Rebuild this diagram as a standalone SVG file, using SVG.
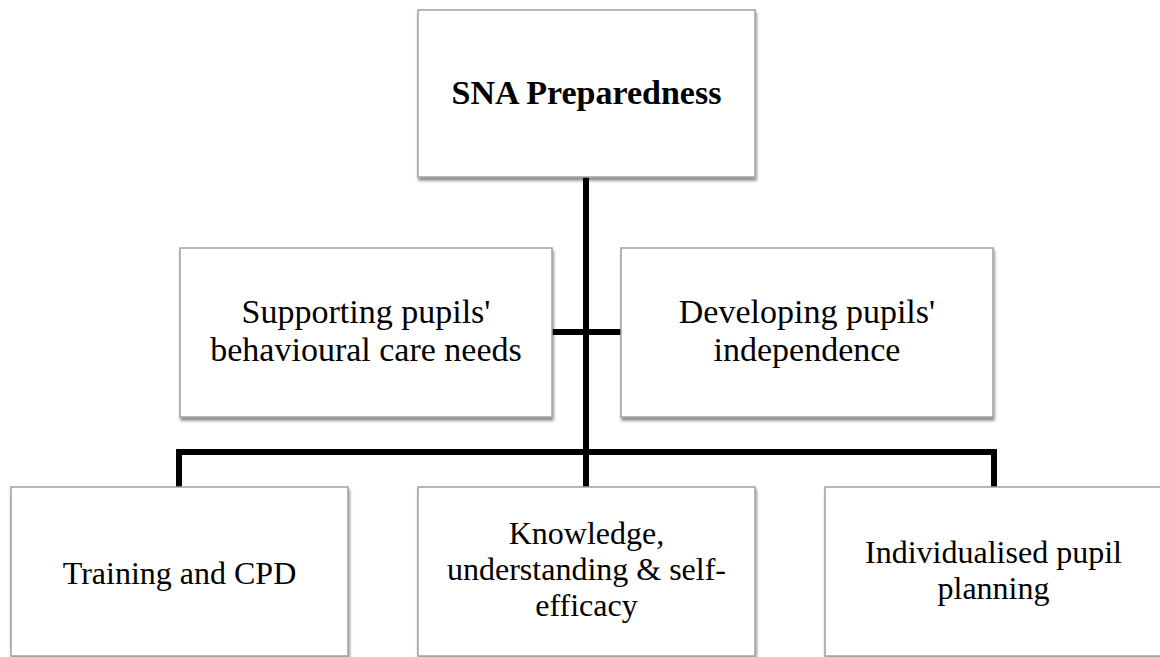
<svg xmlns="http://www.w3.org/2000/svg" width="1160" height="657" viewBox="0 0 1160 657">
<defs>
<filter id="sh" x="-5%" y="-5%" width="115%" height="120%">
<feDropShadow dx="1" dy="3" stdDeviation="1.8" flood-color="#000" flood-opacity="0.45"/>
</filter>
<style>
.box{fill:#fff;stroke:#a0a0a0;stroke-width:1.5;filter:url(#sh)}
.t{font-family:"Liberation Serif","Times New Roman",serif;font-size:34px;fill:#000;text-anchor:middle}
.s{font-size:32px}
.b{font-weight:bold}
.c{fill:none;stroke:#000;stroke-width:6;stroke-linejoin:miter;stroke-linecap:butt}
</style>
</defs>
<rect width="1160" height="657" fill="#fff"/>
<g id="connectors">
<line class="c" x1="586" y1="177" x2="586" y2="452"/>
<line class="c" x1="552" y1="332" x2="621" y2="332"/>
<polyline class="c" points="179,487 179,452 994,452 994,487"/>
<line class="c" x1="586" y1="452" x2="586" y2="487"/>
</g>
<g id="n-top">
<rect class="box" x="418" y="10" width="337" height="167"/>
<text class="t b" x="586.5" y="104">SNA Preparedness</text>
</g>
<g id="n-behaviour">
<rect class="box" x="180" y="248" width="372" height="169"/>
<text class="t" x="366" y="323">Supporting pupils'</text>
<text class="t" x="366" y="361">behavioural care needs</text>
</g>
<g id="n-independence">
<rect class="box" x="621" y="248" width="372" height="169"/>
<text class="t" x="807" y="323">Developing pupils'</text>
<text class="t" x="807" y="361">independence</text>
</g>
<g id="n-training">
<rect class="box" x="11" y="487" width="337" height="169"/>
<text class="t s" x="179.5" y="584">Training and CPD</text>
</g>
<g id="n-knowledge">
<rect class="box" x="418" y="487" width="337" height="169"/>
<text class="t s" x="586.5" y="544">Knowledge,</text>
<text class="t s" x="586.5" y="580">understanding &amp; self-</text>
<text class="t s" x="586.5" y="616">efficacy</text>
</g>
<g id="n-planning">
<rect class="box" x="825" y="487" width="337" height="169"/>
<text class="t s" x="993.5" y="563">Individualised pupil</text>
<text class="t s" x="993.5" y="599">planning</text>
</g>
</svg>
